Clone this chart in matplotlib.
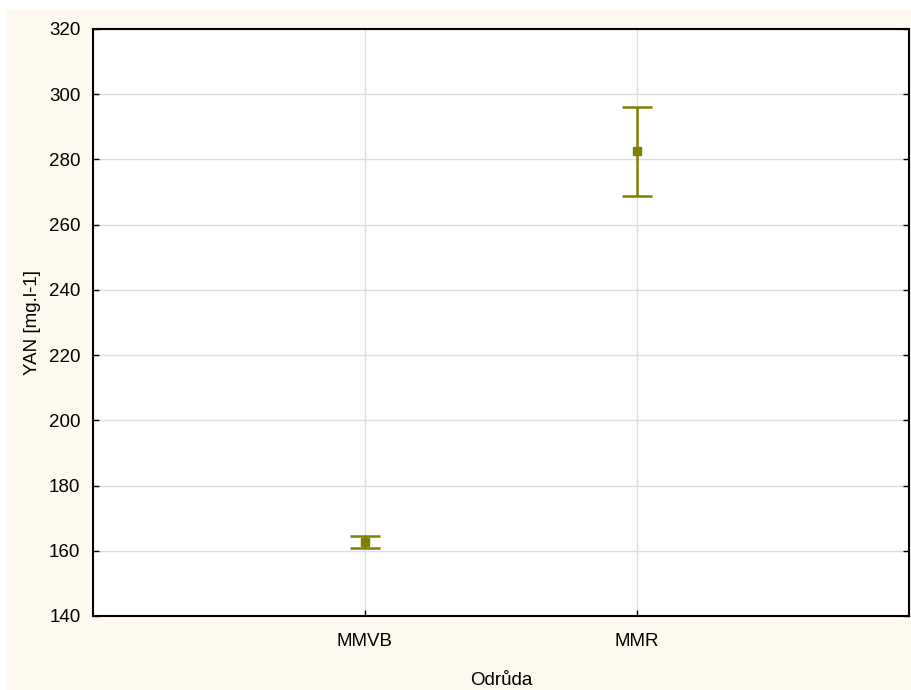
import matplotlib.pyplot as plt
from matplotlib.patches import Rectangle

# Data: mean YAN per variety with error bar limits
varieties = ['MMVB', 'MMR']
yan_mean = [162.8, 282.5]
yan_upper = [164.4, 296.0]
yan_lower = [161.0, 268.9]

plt.rcParams['font.family'] = ['Liberation Sans', 'DejaVu Sans']

olive = '#808000'

fig = plt.figure(figsize=(9.11, 6.90), dpi=100)
fig.patch.set_facecolor('white')
# cream panel behind the plot
fig.patches.append(Rectangle((7 / 911, 0), 1 - 7 / 911, 680 / 690,
                             transform=fig.transFigure, facecolor='#FDF9EE',
                             edgecolor='none', zorder=-5))

ax = fig.add_axes([93 / 911, 74 / 690, 816 / 911, 587 / 690])
ax.set_facecolor('white')

x = list(range(len(varieties)))
err_low = [m - lo for m, lo in zip(yan_mean, yan_lower)]
err_high = [hi - m for m, hi in zip(yan_mean, yan_upper)]
ax.errorbar(x, yan_mean, yerr=[err_low, err_high], fmt='s', color=olive,
            ecolor=olive, markersize=6, elinewidth=1.8, capsize=10.5,
            capthick=1.8, zorder=3)

ax.set_xlim(-1, 2)
ax.set_ylim(140, 320)
ax.set_yticks(range(140, 321, 20))
ax.set_xticks(x)
ax.set_xticklabels(varieties)

ax.grid(True, color='#DDDDDD', linewidth=1)
ax.set_axisbelow(True)
for s in ax.spines.values():
    s.set_linewidth(1.5)
    s.set_color('black')

ax.tick_params(axis='both', direction='in', length=4, width=1, labelsize=13.5,
               right=True)
ax.tick_params(axis='y', pad=9)
ax.tick_params(axis='x', pad=12)

ax.set_xlabel('Odrůda', fontsize=13.5, labelpad=16)
ax.set_ylabel('YAN [mg.l-1]', fontsize=13.5, labelpad=6)

plt.savefig('out.png', dpi=100)
